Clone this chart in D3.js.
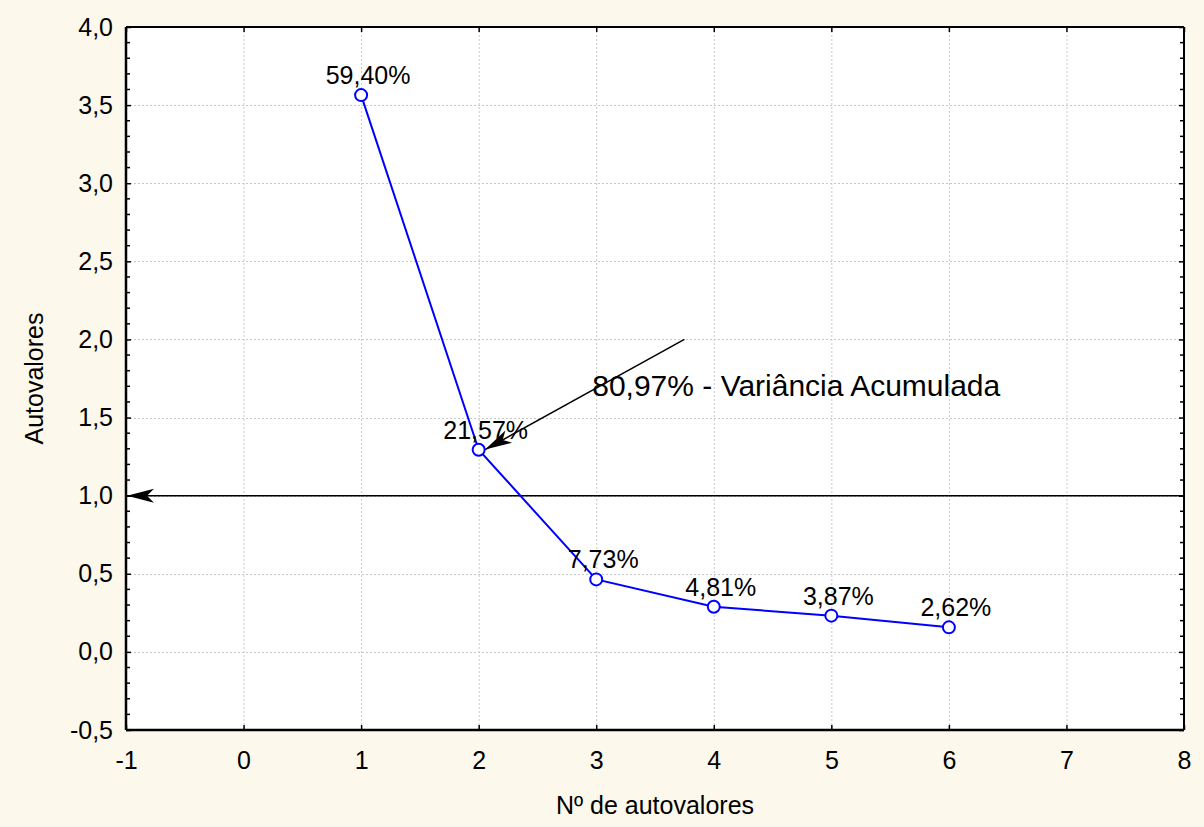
<!DOCTYPE html>
<html>
<head>
<meta charset="utf-8">
<script src="https://cdn.jsdelivr.net/npm/d3@7"></script>
<style>
  html, body { margin: 0; padding: 0; background: #fdf8ec; }
  svg { display: block; font-family: "Liberation Sans", Arial, sans-serif; }
</style>
</head>
<body>
<svg id="chart" width="1204" height="827"></svg>
<script>
// ---- data ----
const components = [1, 2, 3, 4, 5, 6];
const eigenvalues = [3.564, 1.294, 0.464, 0.289, 0.232, 0.157];
const pctLabels = ["59,40%", "21,57%", "7,73%", "4,81%", "3,87%", "2,62%"];
const xTicks = [-1, 0, 1, 2, 3, 4, 5, 6, 7, 8];
const yTicks = [-0.5, 0, 0.5, 1.0, 1.5, 2.0, 2.5, 3.0, 3.5, 4.0];
const xTitle = "Nº de autovalores";
const yTitle = "Autovalores";
const annotationText = "80,97% - Variância Acumulada";
const annotationArrow = { x1: 3.75, y1: 2.0, x2: 2.055, y2: 1.295 };
const annotationTextPos = { x: 2.966, y: 1.635 };
const cutoffLine = { x1: 8, x2: -1, y: 1.0 };

// ---- layout ----
const W = 1204, H = 827;
const margin = { left: 126, top: 27, right: 20, bottom: 97 };
const iw = W - margin.left - margin.right;
const ih = H - margin.top - margin.bottom;

const svg = d3.select("#chart");
svg.append("rect").attr("width", W).attr("height", H).attr("fill", "#fdf8ec");

const defs = svg.append("defs");
defs.append("marker")
  .attr("id", "barb")
  .attr("markerUnits", "userSpaceOnUse")
  .attr("viewBox", "-28 -8 30 16")
  .attr("refX", 0).attr("refY", 0)
  .attr("markerWidth", 30).attr("markerHeight", 16)
  .attr("orient", "auto")
  .append("path")
  .attr("d", "M0,0 L-27,-7 L-20,0 L-27,7 Z")
  .attr("fill", "#000");

const g = svg.append("g").attr("transform", `translate(${margin.left},${margin.top})`);

const x = d3.scaleLinear().domain([-1, 8]).range([0, iw]);
const y = d3.scaleLinear().domain([-0.5, 4.0]).range([ih, 0]);

g.append("rect").attr("width", iw).attr("height", ih).attr("fill", "#fff");

// grid
const grid = g.append("g").attr("stroke", "#c8c8c8").attr("stroke-width", 1).attr("stroke-dasharray", "2,2");
grid.selectAll(".gx").data(xTicks.slice(1, -1)).join("line")
  .attr("x1", d => x(d) + 0.5).attr("x2", d => x(d) + 0.5)
  .attr("y1", 0).attr("y2", ih);
grid.selectAll(".gy").data(yTicks.slice(1, -1)).join("line")
  .attr("y1", d => Math.round(y(d)) + 0.5).attr("y2", d => Math.round(y(d)) + 0.5)
  .attr("x1", 0).attr("x2", iw);

// axes
const fmt = d => d3.format(".1f")(d).replace(".", ",").replace("−", "-");
const bottomAxis = d3.axisBottom(x).tickValues(xTicks).tickSize(-5).tickPadding(27)
  .tickFormat(d => String(d));
const leftAxis = d3.axisLeft(y).tickValues(yTicks).tickSize(-5).tickPadding(13).tickFormat(fmt);
const minorY = d3.range(-5, 41).filter(i => i % 5 !== 0).map(i => i / 10);

const gb = g.append("g").attr("transform", `translate(0,${ih})`).call(bottomAxis);
const gl = g.append("g").call(leftAxis);
[gb, gl].forEach(a => {
  a.select(".domain").remove();
  a.selectAll("text").attr("font-size", 25).attr("fill", "#000")
    .attr("font-family", "'Liberation Sans', Arial, sans-serif");
  a.selectAll("line").attr("stroke", "#000").attr("stroke-width", 1.5);
});
gb.selectAll("text").attr("dy", "0");
gb.selectAll("text").attr("y", 39);

g.append("g").call(d3.axisTop(x).tickValues(xTicks).tickSize(-5).tickFormat(""))
  .call(a => a.select(".domain").remove())
  .selectAll("line").attr("stroke", "#000").attr("stroke-width", 1.5);
g.append("g").attr("transform", `translate(${iw},0)`)
  .call(d3.axisRight(y).tickValues(yTicks).tickSize(-5).tickFormat(""))
  .call(a => a.select(".domain").remove())
  .selectAll("line").attr("stroke", "#000").attr("stroke-width", 1.5);
// minor ticks on left and right
g.append("g").selectAll("line").data(minorY).join("line")
  .attr("x1", 0).attr("x2", 4).attr("y1", d => y(d)).attr("y2", d => y(d))
  .attr("stroke", "#000").attr("stroke-width", 1.5);
g.append("g").selectAll("line").data(minorY).join("line")
  .attr("x1", iw).attr("x2", iw - 4).attr("y1", d => y(d)).attr("y2", d => y(d))
  .attr("stroke", "#000").attr("stroke-width", 1.5);

// frame
g.append("line").attr("x1", 0).attr("x2", iw).attr("y1", 0).attr("y2", 0).attr("stroke", "#000").attr("stroke-width", 2);
g.append("line").attr("x1", iw).attr("x2", iw).attr("y1", 0).attr("y2", ih).attr("stroke", "#000").attr("stroke-width", 2);
g.append("line").attr("x1", 0).attr("x2", iw).attr("y1", ih).attr("y2", ih).attr("stroke", "#000").attr("stroke-width", 2.5);
g.append("line").attr("x1", 0).attr("x2", 0).attr("y1", 0).attr("y2", ih).attr("stroke", "#000").attr("stroke-width", 2.5);

// cutoff line y=1 with arrow
g.append("line")
  .attr("x1", x(cutoffLine.x1)).attr("x2", x(cutoffLine.x2) + 1)
  .attr("y1", y(cutoffLine.y)).attr("y2", y(cutoffLine.y))
  .attr("stroke", "#000").attr("stroke-width", 1.5)
  .attr("marker-end", "url(#barb)");

// series
const data = components.map((c, i) => ({ c, v: eigenvalues[i], label: pctLabels[i] }));
g.append("path").datum(data)
  .attr("d", d3.line().x(d => x(d.c)).y(d => y(d.v)))
  .attr("fill", "none").attr("stroke", "#0000ff").attr("stroke-width", 2);
g.selectAll(".pt").data(data).join("circle")
  .attr("cx", d => x(d.c)).attr("cy", d => y(d.v)).attr("r", 6)
  .attr("fill", "#fff").attr("stroke", "#0000ff").attr("stroke-width", 2);
g.selectAll(".lbl").data(data).join("text")
  .attr("x", d => x(d.c) + 7).attr("y", d => y(d.v) - 11)
  .attr("text-anchor", "middle").attr("font-size", 25).attr("fill", "#000")
  .text(d => d.label);

// annotation arrow and text
g.append("line")
  .attr("x1", x(annotationArrow.x1)).attr("y1", y(annotationArrow.y1))
  .attr("x2", x(annotationArrow.x2)).attr("y2", y(annotationArrow.y2))
  .attr("stroke", "#000").attr("stroke-width", 1.5)
  .attr("marker-end", "url(#barb)");
g.append("text")
  .attr("x", x(annotationTextPos.x)).attr("y", y(annotationTextPos.y))
  .attr("font-size", 30).attr("fill", "#000").text(annotationText);

// axis titles
svg.append("text").attr("x", margin.left + iw / 2).attr("y", 814)
  .attr("text-anchor", "middle").attr("font-size", 25).attr("fill", "#000").text(xTitle);
svg.append("text").attr("transform", `translate(43,${margin.top + ih / 2}) rotate(-90)`)
  .attr("text-anchor", "middle").attr("font-size", 25).attr("fill", "#000").text(yTitle);
</script>
</body>
</html>
